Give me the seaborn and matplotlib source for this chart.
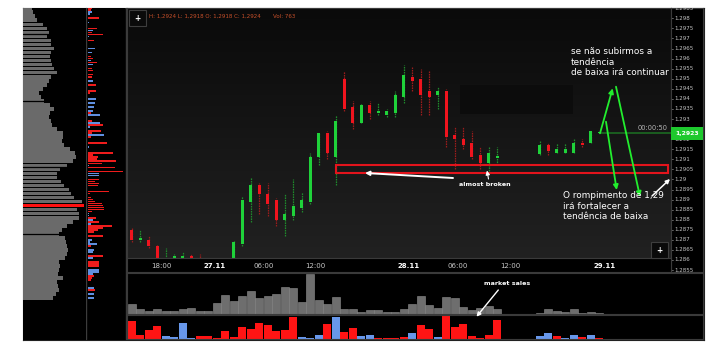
import numpy as np
import pandas as pd
import matplotlib
matplotlib.use("Agg")
import matplotlib.pyplot as plt
import matplotlib.transforms as mtrans
from matplotlib.patches import Rectangle, FancyArrowPatch
from matplotlib.lines import Line2D
from matplotlib.colors import LinearSegmentedColormap
import seaborn as sns

# ---------------------------------------------------------------- data
candle_idx = [0, 1, 2, 3, 4, 5, 6, 7, 8,
              12, 13, 14, 15, 16, 17, 18, 19, 20, 21, 22, 23, 24, 25, 26, 27, 28, 29, 30, 31,
              32, 33, 34, 35, 36, 37, 38, 39, 40, 41, 42, 43,
              48, 49, 50, 51, 52, 53, 54, 55]
opens = [1.2875, 1.2870, 1.2870, 1.2867, 1.2851, 1.2853, 1.2855, 1.2862, 1.2861,
         1.2856, 1.2868, 1.2889, 1.2897, 1.2893, 1.2890, 1.2880, 1.2882, 1.2886, 1.2889, 1.2911, 1.2923,
         1.2911, 1.2950, 1.2936, 1.2928, 1.2937, 1.2933, 1.2932, 1.2933, 1.2941, 1.2951, 1.2950, 1.2944,
         1.2942, 1.2944, 1.2922, 1.2920, 1.2918, 1.2912, 1.2908, 1.29105,
         1.29125, 1.2917, 1.2913, 1.2913, 1.2913, 1.2918, 1.2918, 1.2923]
highs = [1.2876, 1.2875, 1.2872, 1.2868, 1.2866, 1.2863, 1.2864, 1.2863, 1.2863,
         1.2870, 1.2892, 1.2901, 1.2898, 1.2898, 1.2891, 1.2893, 1.2900, 1.2894, 1.2913, 1.2923, 1.2924,
         1.2932, 1.2954, 1.2939, 1.2938, 1.2939, 1.2938, 1.2935, 1.2944, 1.2957, 1.2956, 1.2955, 1.2954,
         1.2946, 1.2945, 1.2926, 1.2926, 1.2924, 1.2916, 1.2916, 1.2916,
         1.2919, 1.2918, 1.2918, 1.2918, 1.2920, 1.2920, 1.2924, 1.2923]
lows = [1.2869, 1.2869, 1.2866, 1.2853, 1.2848, 1.2850, 1.2853, 1.2852, 1.2850,
        1.2855, 1.2867, 1.2879, 1.2883, 1.2882, 1.2877, 1.2872, 1.2880, 1.2884, 1.2888, 1.2907, 1.2910,
        1.2897, 1.2934, 1.2925, 1.2928, 1.2930, 1.2932, 1.2931, 1.2931, 1.2938, 1.2944, 1.2932, 1.2932,
        1.2935, 1.2916, 1.2905, 1.2915, 1.2910, 1.2905, 1.2904, 1.2907,
        1.2912, 1.2912, 1.2913, 1.2913, 1.2913, 1.2916, 1.2918, 1.2923]
closes = [1.2870, 1.2871, 1.2867, 1.2856, 1.2858, 1.2862, 1.2862, 1.2856, 1.2855,
          1.2869, 1.2890, 1.2897, 1.2893, 1.2888, 1.2880, 1.2883, 1.2887, 1.2890, 1.2911, 1.2923, 1.2913,
          1.2929, 1.2935, 1.2928, 1.2937, 1.2933, 1.2934, 1.2934, 1.2942, 1.2952, 1.2949, 1.2942, 1.2941,
          1.2944, 1.2921, 1.2920, 1.2917, 1.2911, 1.2908, 1.2913, 1.29115,
          1.2917, 1.2914, 1.2915, 1.2915, 1.2918, 1.2917, 1.2924, 1.2923]
current_price = 1.2923
support_low, support_high = 1.2903, 1.2907

vol_idx = [-1] + list(range(0, 44)) + list(range(48, 56))
total_vol = [93, 100, 47, 23, 43, 30, 23, 50, 53, 23, 30, 110, 190, 123, 173, 227, 153, 177, 200,
             263, 257, 113, 400, 140, 100, 167, 43, 50, 20, 33, 40, 13, 13, 47, 93, 173, 90, 57,
             167, 160, 63, 33, 60, 80, 43, 7, 47, 30, 17, 43, 10, 20, 3]
delta_vol = [27, 180, 37, 87, 127, 27, 20, 153, 5, 27, 27, 5, 80, 17, 120, 100, 157, 137, 73, 90,
             217, 20, 5, 37, 147, 220, 67, 110, 30, 37, 5, 5, 5, 20, 60, 133, 97, 17, 233, 113,
             143, 23, 5, 40, 187, 27, 53, 30, 5, 40, 20, 37, 5]
delta_side = list("sssss" "bbbb" "ssssssssssss" "bbb" "s" "b" "ss" "bb" "ssss" "b" "ss" "b"
                  "sssssss" "bbsbbsbs")

price_ticks = [1.2855, 1.286, 1.2865, 1.287, 1.2875, 1.288, 1.2885, 1.289, 1.2895, 1.29,
               1.2905, 1.291, 1.2915, 1.292, 1.2925, 1.293, 1.2935, 1.294, 1.2945, 1.295,
               1.2955, 1.296, 1.2965, 1.297, 1.2975, 1.298, 1.2985]
time_label_pos = [3.5, 9.7, 15.5, 21.6, 32.6, 38.4, 44.5, 55.6]
time_labels = ["18:00", "27.11", "06:00", "12:00", "28.11", "06:00", "12:00", "29.11"]
time_is_date = [False, True, False, False, True, False, False, True]

profile_levels = np.round(np.arange(1.2985, 1.28405, -0.0002), 4)
profile_vol = [90, 103, 117, 143, 197, 237, 263, 243, 277, 283, 310, 277, 273, 283, 287, 313, 343,
               283, 263, 237, 197, 163, 183, 210, 270, 310, 270, 257, 277, 287, 343, 403, 403, 387,
               410, 470, 523, 530, 497, 437, 370, 337, 343, 380, 413, 457, 477, 510, 587, 610, 543,
               557, 563, 503, 443, 387, 357, 420, 430, 437, 450, 437, 420, 363, 370, 363, 353, 403,
               343, 353, 357, 330, 303]
poc_level = 1.2887
profile_breaks = [1.2972, 1.2939, 1.2906, 1.2873]

flow_levels = [1.2985, 1.2984, 1.2983, 1.2982, 1.2980, 1.2978, 1.2975, 1.2974, 1.2973, 1.2972,
               1.2971, 1.2969, 1.2965, 1.2963, 1.2961, 1.2960, 1.2959, 1.2958, 1.2957, 1.2955,
               1.2954, 1.2952, 1.2951, 1.2949, 1.2947, 1.2944, 1.2943, 1.2940, 1.2938, 1.2936,
               1.2934, 1.2933, 1.2932, 1.2929, 1.2928, 1.2927, 1.2926, 1.2924, 1.2923, 1.2922,
               1.2921, 1.2918, 1.2916, 1.2913, 1.2912, 1.2911, 1.2910, 1.2909, 1.2908, 1.2907,
               1.2906, 1.2904, 1.2903, 1.2902, 1.2900, 1.2899, 1.2898, 1.2897, 1.2894, 1.2893,
               1.2891, 1.2890, 1.2889, 1.2888, 1.2887, 1.2886, 1.2885, 1.2884, 1.2883, 1.2882,
               1.2881, 1.2880, 1.2879, 1.2878, 1.2877, 1.2876, 1.2875, 1.2874, 1.2872, 1.2870,
               1.2869, 1.2868, 1.2867, 1.2865, 1.2864, 1.2862, 1.2861, 1.2859, 1.2858, 1.2857,
               1.2855, 1.2854, 1.2853, 1.2852, 1.2851, 1.2850, 1.2848, 1.2846, 1.2845, 1.2843,
               1.2841]
flow_vol = [40, 30, 47, 23, 113, 17, 90, 57, 40, 150, 17, 67, 73, 43, 30, 50, 30, 90, 57, 40,
            57, 50, 40, 57, 83, 83, 23, 83, 73, 63, 57, 30, 123, 43, 123, 150, 23, 133, 40, 163,
            30, 190, 13, 257, 50, 107, 90, 283, 140, 13, 273, 357, 117, 110, 117, 73, 110, 103, 217, 23,
            30, 50, 73, 143, 150, 163, 163, 47, 17, 17, 87, 57, 110, 30, 240, 150, 107, 67, 157, 47,
            23, 90, 30, 63, 57, 157, 50, 110, 117, 110, 113, 113, 57, 60, 43, 33, 7, 63, 73, 67, 63]
flow_side = list("ssbbsbsbss" "bsbbssbsbs" "sssbsssbbb" "bsbsbsbssb" "ssbssssssb"
                 "ssbbssssss" "ssssssssbb" "sbsbsssssb" "bbsbbsbsss" "bbbsssbbsb" "b")

assert len(opens) == len(highs) == len(lows) == len(closes) == len(candle_idx)
assert len(vol_idx) == len(total_vol) == len(delta_vol) == len(delta_side)
assert len(profile_levels) == len(profile_vol)
assert len(flow_levels) == len(flow_vol) == len(flow_side)

# ---------------------------------------------------------------- style
sns.set_theme(style="dark")
plt.rcParams["font.family"] = ["DejaVu Sans"]
plt.rcParams["patch.force_edgecolor"] = False
plt.rcParams["patch.edgecolor"] = "none"

W, H = 714, 348
fig = plt.figure(figsize=(W / 100, H / 100), dpi=100, facecolor="white")


def box(x0, y0, x1, y1, z=1):
    a = fig.add_axes([x0 / W, 1 - y1 / H, (x1 - x0) / W, (y1 - y0) / H], zorder=z)
    a.set_xticks([]); a.set_yticks([])
    a.set_xlabel(""); a.set_ylabel("")
    a.grid(False)
    return a


def p_at(y):
    return 1.286 + (260.0 - y) / 20142.0


def i_at(x):
    return (x - 131.7) / 8.5


def fx(x):
    return x / W


def fy(y):
    return 1 - y / H


def style(a, face="black", edge="#3a3a3a"):
    a.set_facecolor(face)
    for s in a.spines.values():
        s.set_color(edge); s.set_linewidth(0.8)


# background block
bg = box(22.5, 8, 703.5, 339.5, z=0)
style(bg, "black", "#202020")

# ---------------------------------------------------------------- left volume profile
axg = box(23, 8, 86, 340, z=2)
style(axg, "black", "black")
for s in axg.spines.values():
    s.set_visible(False)
gcolors = ["#ff1010" if abs(l - poc_level) < 1e-6 else "#6a6a6a" for l in profile_levels]
axg.barh(profile_levels, profile_vol, height=0.00018, color=gcolors, linewidth=0,
         edgecolor="none")
for b in profile_breaks:
    axg.axhline(b, color="black", lw=0.9)
axg.set_xlim(0, 630)
axg.set_ylim(p_at(340), p_at(8))

axf = box(87.5, 8, 125, 340, z=2)
style(axf, "black", "black")
for s in axf.spines.values():
    s.set_visible(False)
fcolors = ["#ee1c1c" if s == "s" else "#5f8fe0" for s in flow_side]
axf.barh(flow_levels, flow_vol, height=0.00008, color=fcolors, linewidth=0, edgecolor="none")
axf.set_xlim(0, 375)
axf.set_ylim(p_at(340), p_at(8))

fig.add_artist(Line2D([fx(86.3), fx(86.3)], [fy(8), fy(339)], color="#3c3c3c", lw=1.0))
fig.add_artist(Line2D([fx(126), fx(126)], [fy(8), fy(339)], color="#3c3c3c", lw=1.0))

# ---------------------------------------------------------------- main candle chart
ax = box(127, 8, 671, 258, z=3)
style(ax, "#111111", "#3a3a3a")
x0, x1 = i_at(127), i_at(671)
y0, y1 = p_at(258), p_at(8)
grad = LinearSegmentedColormap.from_list("g", ["#0a0a0a", "#212121"])
ax.imshow(np.linspace(0, 1, 256).reshape(-1, 1), cmap=grad, aspect="auto",
          extent=[x0, x1, y0, y1], origin="upper", zorder=0)
ax.set_xlim(x0, x1)
ax.set_ylim(y0, y1)

# faint dark tooltip rectangle
ax.add_patch(Rectangle((i_at(460), p_at(114)), i_at(573) - i_at(460), p_at(85) - p_at(114),
                       facecolor="#080808", alpha=0.55, lw=0, zorder=1))

df = pd.DataFrame(dict(idx=candle_idx, o=opens, h=highs, l=lows, c=closes))
up = (df.c >= df.o).to_numpy()
wick_cols = np.where(up, "#1f8a2c", "#9a1c1c")
ax.vlines(df.idx, df.l, df.h, colors=wick_cols, lw=0.9, linestyles=(0, (1.3, 0.7)), zorder=2)
body_lo = np.minimum(df.o, df.c)
body_h = np.maximum((df.c - df.o).abs(), 0.00005)
ax.bar(df.idx, body_h, bottom=body_lo, width=0.38,
       color=np.where(up, "#1fd23a", "#f0141e"), linewidth=0, edgecolor="none", zorder=3)

# current price line
ax.hlines(current_price, 55, x1, color="#1c6a22", lw=1.2, zorder=2)
ax.text(i_at(668), p_at(128.3), "00:00:50", color="#b4b4b4", fontsize=4.8,
        ha="right", va="center", zorder=6)

# support rectangle
ax.add_patch(Rectangle((i_at(336), support_low), i_at(668) - i_at(336), support_high - support_low,
                       facecolor="none", edgecolor="#e3141c", lw=1.5, zorder=4))


def arrow(xa, ya, xb, yb, color, lw=1.3, head=7):
    ax.add_patch(FancyArrowPatch((i_at(xa), p_at(ya)), (i_at(xb), p_at(yb)),
                                 arrowstyle="-|>", mutation_scale=head, color=color,
                                 lw=lw, zorder=7, shrinkA=0, shrinkB=0, clip_on=False))


green = "#22ee2e"
arrow(600, 133.3, 612.7, 88.3, green)
arrow(616, 86.7, 640, 196.7, green)
arrow(606, 121.7, 616.7, 190, green)
arrow(652, 196, 670, 179, "white", lw=1.1, head=6)
arrow(453, 178, 365, 173, "white", lw=1.4, head=6)
arrow(488.5, 179, 487, 170.5, "white", lw=0.8, head=6)

ax.text(i_at(484.5), p_at(184.5), "almost broken", color="white", fontsize=4.6,
        fontweight="bold", ha="center", va="center", zorder=8)
ax.text(i_at(570.7), p_at(62.2), "se não subirmos a\ntendência\nde baixa irá continuar",
        color="white", fontsize=6.4, ha="left", va="center", linespacing=1.2, zorder=8)
ax.text(i_at(562.7), p_at(206.2), "O rompimento de 1,29\nirá fortalecer a\ntendência de baixa",
        color="white", fontsize=6.4, ha="left", va="center", linespacing=1.2, zorder=8)

# header
fig.text(fx(149), fy(16.3), "H: 1,2924 L: 1,2918 O: 1,2918 C: 1,2924", color="#c8502a",
         fontsize=4.0, va="center", ha="left", zorder=10)
fig.text(fx(272.7), fy(16.3), "Vol: 763", color="#c8502a", fontsize=4.0, va="center",
         ha="left", zorder=10)


def button(xa, ya, xb, yb):
    fig.add_artist(Rectangle((fx(xa), fy(yb)), fx(xb) - fx(xa), fy(ya) - fy(yb),
                             transform=fig.transFigure, facecolor="#0a0a0a",
                             edgecolor="#3e3e3e", lw=0.8, zorder=10))
    fig.text(fx((xa + xb) / 2), fy((ya + yb) / 2 + 0.3), "+", color="white", fontsize=5.5,
             fontweight="bold", ha="center", va="center", zorder=11)


button(128.5, 10, 145.5, 26)
button(651, 242, 668, 258)

# ---------------------------------------------------------------- price axis
axp = box(671, 8, 703, 272, z=3)
style(axp, "black", "#3a3a3a")
axp.set_ylim(p_at(272), p_at(8))
tr = mtrans.blended_transform_factory(axp.transAxes, axp.transData)
for p in price_ticks:
    lab = f"{p:.4f}".rstrip("0")
    axp.text(0.1, p, lab, transform=tr, color="#c4c4c4", fontsize=4.0, va="center",
             ha="left", clip_on=True)
    axp.plot([0, 0.07], [p, p], transform=tr, color="#8a8a8a", lw=0.5)
axp.add_patch(Rectangle((0, p_at(139.5)), 1, p_at(127.5) - p_at(139.5), transform=tr,
                        facecolor="#1ec92e", edgecolor="none", zorder=5))
axp.text(0.5, current_price, f"{current_price:.4f}".replace(".", ","), transform=tr,
         color="white", fontsize=4.4, fontweight="bold", ha="center", va="center", zorder=6)

# ---------------------------------------------------------------- time axis band
axt = box(127, 258, 671, 272, z=3)
style(axt, "black", "#3a3a3a")
axt.set_xlim(x0, x1)
axt.set_ylim(0, 1)
for pos, lab, isd in zip(time_label_pos, time_labels, time_is_date):
    axt.text(pos, 0.45, lab, color="white" if isd else "#c8c8c8", fontsize=5.0,
             fontweight="bold" if isd else "normal", ha="center", va="center")

# ---------------------------------------------------------------- volume panels
vdf = pd.DataFrame(dict(idx=vol_idx, total=total_vol, delta=delta_vol, side=delta_side))
xv0, xv1 = i_at(127), i_at(703)

axv = box(127, 272.5, 703, 313.5, z=3)
sns.barplot(data=vdf, x="idx", y="total", native_scale=True, color="#6e6e6e", saturation=1,
            width=0.9, edgecolor="#8c8c8c", linewidth=0.4, errorbar=None, ax=axv)
style(axv, "black", "#3a3a3a")
axv.set_xlim(xv0, xv1); axv.set_ylim(0, 410)
axv.set_xticks([]); axv.set_yticks([]); axv.set_xlabel(""); axv.set_ylabel("")

axd = box(127, 314.5, 703, 338.5, z=3)
sns.barplot(data=vdf, x="idx", y="delta", hue="side", palette={"s": "#ff1414", "b": "#6797ea"},
            native_scale=True, dodge=False, saturation=1, width=0.92, linewidth=0,
            edgecolor="none", errorbar=None, legend=False, ax=axd)
style(axd, "black", "#3a3a3a")
axd.set_xlim(xv0, xv1); axd.set_ylim(0, 240)
axd.set_xticks([]); axd.set_yticks([]); axd.set_xlabel(""); axd.set_ylabel("")

axv.text(i_at(507.5), 300, "market sales", color="white", fontsize=4.6, fontweight="bold",
         ha="center", va="center", zorder=8)
fig.add_artist(FancyArrowPatch((fx(498.3), fy(290)), (fx(476.5), fy(316.7)),
                               transform=fig.transFigure, arrowstyle="-|>", mutation_scale=6,
                               color="white", lw=1.0, zorder=12, shrinkA=0, shrinkB=0))

fig.savefig("out.png", dpi=100, facecolor="white")
